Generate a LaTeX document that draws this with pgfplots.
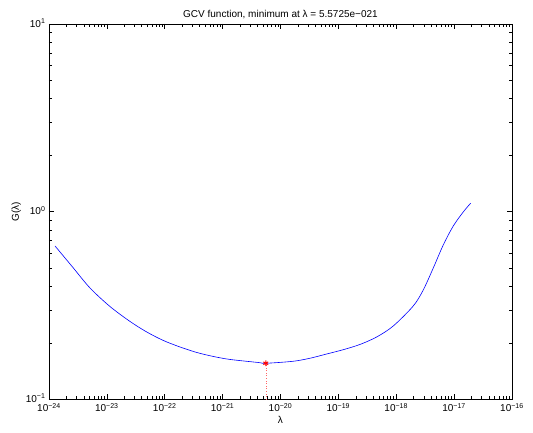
\documentclass[border=0pt]{standalone}
\usepackage{fontspec}
\setmainfont{Liberation Sans}
\usepackage{pgfplots}
\pgfplotsset{compat=1.18}
\usetikzlibrary{calc}

\begin{document}
\begin{tikzpicture}
\begin{axis}[
    name=ax,
    xmode=log, ymode=log,
    scale only axis,
    width=463pt, height=375.3pt,
    xmin=1e-24, xmax=1e-16,
    ymin=0.1, ymax=10,
    xtick={1e-24,1e-23,1e-22,1e-21,1e-20,1e-19,1e-18,1e-17,1e-16},
    xticklabels={10\textsuperscript{−24},10\textsuperscript{−23},10\textsuperscript{−22},10\textsuperscript{−21},10\textsuperscript{−20},10\textsuperscript{−19},10\textsuperscript{−18},10\textsuperscript{−17},10\textsuperscript{−16}},
    ytick={0.1,1,10},
    yticklabels={10\textsuperscript{−1},10\textsuperscript{0},10\textsuperscript{1}},
    tick label style={font=\fontsize{10}{12}\selectfont},
    label style={font=\fontsize{10}{12}\selectfont},
    title style={font=\fontsize{10}{12}\selectfont, yshift=-4pt},
    title={GCV function, minimum at λ = 5.5725e−021},
    xlabel={λ},
    ylabel={G(λ)},
    xlabel style={yshift=3pt},
    ylabel style={yshift=-2pt},
    xticklabel style={yshift=-0.5pt},
    yticklabel style={yshift=1pt},
    tick align=inside,
    major tick length=5pt,
    minor tick length=3pt,
    every tick/.style={black, line width=0.5pt},
    axis line style={line width=0.6pt},
]
\addplot[blue, line width=0.6pt, smooth] coordinates {
    (1.27e-24,0.6566)
    (2.55e-24,0.5074)
    (5.11e-24,0.3921)
    (1.13e-23,0.3125)
    (2.51e-23,0.2600)
    (4.88e-23,0.2285)
    (9.44e-23,0.2059)
    (1.83e-22,0.1901)
    (3.57e-22,0.1777)
    (6.90e-22,0.1692)
    (1.34e-21,0.1631)
    (4.13e-21,0.1571)
    (5.5725e-21,0.1556)
    (1.66e-20,0.1595)
    (3.23e-20,0.1655)
    (6.28e-20,0.1744)
    (1.22e-19,0.1839)
    (2.36e-19,0.1960)
    (4.60e-19,0.2149)
    (8.89e-19,0.2459)
    (1.97e-18,0.3144)
    (2.93e-18,0.3825)
    (4.37e-18,0.5012)
    (6.50e-18,0.6647)
    (9.68e-18,0.8390)
    (1.44e-17,0.9963)
    (1.93e-17,1.109)
};
\addplot[red!60, line width=0.5pt, dash pattern=on 0.6pt off 2pt] coordinates {(5.5725e-21,0.1) (5.5725e-21,0.1556)};
\addplot[red, only marks, mark=asterisk, mark size=2.8pt, line width=1pt] coordinates {(5.5725e-21,0.1556)};
\end{axis}
\path[use as bounding box] ($(ax.south west)+(-49pt,-32.7pt)$) rectangle ($(ax.north east)+(21pt,24pt)$);
\end{tikzpicture}
\end{document}
